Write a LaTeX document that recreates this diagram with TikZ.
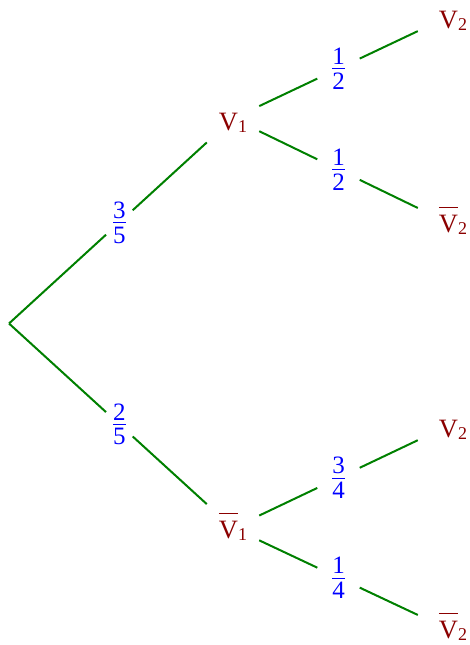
\documentclass[tikz,border=0pt]{standalone}
\usepackage{fontspec}
\setmainfont{Liberation Serif}
\definecolor{vred}{RGB}{139,0,0}
\definecolor{lblue}{RGB}{0,0,255}
\definecolor{tgreen}{RGB}{0,128,0}
\newcommand\myfrac[2]{$\vcenter{\halign{\hfil##\hfil\cr#1\cr\noalign{\kern4pt\hrule height 0.9pt\kern3.5pt}#2\cr}}$}
\newcommand\obar[1]{\vbox{\hrule height 1pt\kern7pt\hbox{#1}}}
\newcommand\vsub[1]{\raisebox{-2pt}{\fontsize{18}{18}\selectfont #1}}
\tikzset{
  bigfont/.style={font=\fontsize{25}{30}\selectfont},
  vfont/.style={font=\fontsize{26.5}{30}\selectfont},
  inner/.style={vfont, inner sep=0pt, minimum width=52pt, text=vred},
  leaf/.style={vfont, inner sep=0pt, minimum width=70pt, text=vred},
  plainleaf/.style={leaf, text height=33.75pt, text depth=6.25pt},
  barleaf/.style={leaf, text height=27pt, text depth=13pt},
  lbl/.style={bigfont, inner sep=0pt, minimum width=42pt, text height=18.25pt, text depth=5.75pt, text=lblue},
  edge/.style={draw=tgreen, line width=2pt}
}
\begin{document}
\begin{tikzpicture}[x=1pt,y=-1pt]
\useasboundingbox (0,0) rectangle (469,645);
\coordinate (root) at (9,323.5);
\node[inner, text height=35.75pt, text depth=12.25pt] (v1) at (233,118.5) {V\vsub{1}};
\node[inner, text height=34.75pt, text depth=13.25pt] (nv1) at (233,528) {\obar{V}\vsub{1}};
\node[plainleaf] (a) at (453,14.5) {V\vsub{2}};
\node[barleaf] (b) at (453,225) {\obar{V}\vsub{2}};
\node[plainleaf] (c) at (453,423.5) {V\vsub{2}};
\node[barleaf] (d) at (453,631.5) {\obar{V}\vsub{2}};
% edge labels
\path (root) -- node[lbl, pos=0.558] (f1) {\myfrac{3}{5}} (v1);
\path (root) -- node[lbl, pos=0.558] (f2) {\myfrac{2}{5}} (nv1);
\path (v1) -- node[lbl] (f3) {\myfrac{1}{2}} (a);
\path (v1) -- node[lbl] (f4) {\myfrac{1}{2}} (b);
\path (nv1) -- node[lbl] (f5) {\myfrac{3}{4}} (c);
\path (nv1) -- node[lbl] (f6) {\myfrac{1}{4}} (d);
% edges
\draw[edge] (root) -- (f1);
\draw[edge] (f1) -- (v1);
\draw[edge] (root) -- (f2);
\draw[edge] (f2) -- (nv1);
\draw[edge] (v1) -- (f3);
\draw[edge] (f3) -- (a);
\draw[edge] (v1) -- (f4);
\draw[edge] (f4) -- (b);
\draw[edge] (nv1) -- (f5);
\draw[edge] (f5) -- (c);
\draw[edge] (nv1) -- (f6);
\draw[edge] (f6) -- (d);
\end{tikzpicture}
\end{document}
